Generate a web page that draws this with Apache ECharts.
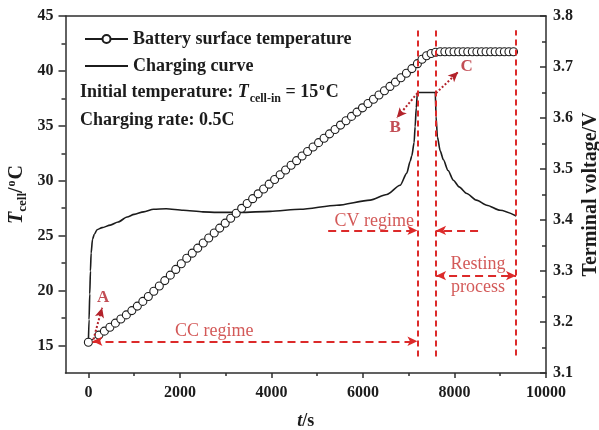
<!DOCTYPE html>
<html>
<head>
<meta charset="utf-8">
<script src="https://cdn.jsdelivr.net/npm/echarts@6/dist/echarts.min.js"></script>
<style>
  html, body { margin: 0; padding: 0; background: #fff; }
  #chart { width: 599px; height: 430px; }
</style>
</head>
<body>
<div id="chart"></div>
<script>
// Battery surface temperature (°C) sampled along the charge and rest
const tempTime = [0, 230, 350, 470, 590, 710, 830, 950, 1070, 1190, 1310, 1430, 1550, 1670, 1790, 1910,
  2030, 2150, 2270, 2390, 2510, 2630, 2750, 2870, 2990, 3110, 3230, 3350, 3470, 3590, 3710, 3830, 3950,
  4070, 4190, 4310, 4430, 4550, 4670, 4790, 4910, 5030, 5150, 5270, 5390, 5510, 5630, 5750, 5870, 5990,
  6110, 6230, 6350, 6470, 6590, 6710, 6830, 6950, 7070, 7190, 7290, 7390, 7490, 7590, 7690, 7790, 7890,
  7990, 8090, 8190, 8290, 8390, 8490, 8590, 8690, 8790, 8890, 8990, 9090, 9190, 9290];
const tempValue = [15.30, 15.95, 16.31, 16.67, 17.04, 17.41, 17.79, 18.18, 18.59, 19.02, 19.47, 19.94,
  20.42, 20.91, 21.41, 21.93, 22.45, 22.94, 23.41, 23.87, 24.33, 24.79, 25.24, 25.69, 26.14, 26.59, 27.04,
  27.49, 27.93, 28.37, 28.81, 29.25, 29.69, 30.12, 30.55, 30.98, 31.41, 31.83, 32.25, 32.66, 33.07, 33.47,
  33.87, 34.27, 34.67, 35.07, 35.47, 35.86, 36.25, 36.64, 37.03, 37.42, 37.81, 38.20, 38.59, 38.98, 39.38,
  39.79, 40.21, 40.66, 41.06, 41.38, 41.58, 41.70, 41.75, 41.75, 41.75, 41.75, 41.75, 41.75, 41.75, 41.75,
  41.75, 41.75, 41.75, 41.75, 41.75, 41.75, 41.75, 41.75, 41.75];

// Terminal voltage (V) during CC / CV charging and resting
const voltTime = [0, 15, 30, 45, 60, 90, 130, 190, 300, 480, 650, 845, 1000, 1207, 1426, 1700, 2074, 2500,
  2810, 3320, 3974, 4630, 5430, 6157, 6522, 6812, 6958, 7031, 7068, 7118, 7140, 7165, 7190, 7580, 7598,
  7627, 7690, 7758, 7860, 7976, 8100, 8269, 8480, 8705, 8996, 9350];
const voltValue = [3.160, 3.205, 3.255, 3.300, 3.335, 3.362, 3.372, 3.381, 3.385, 3.390, 3.396, 3.406,
  3.411, 3.416, 3.421, 3.422, 3.419, 3.416, 3.415, 3.415, 3.417, 3.421, 3.429, 3.439, 3.450, 3.468, 3.492,
  3.515, 3.526, 3.552, 3.583, 3.620, 3.650, 3.650, 3.603, 3.563, 3.535, 3.518, 3.497, 3.478, 3.465, 3.452,
  3.439, 3.429, 3.419, 3.408];

// Axis ticks
const xMajorTicks = [0, 2000, 4000, 6000, 8000, 10000];
const xMinorTicks = [1000, 3000, 5000, 7000, 9000];
const tMajorTicks = [15, 20, 25, 30, 35, 40, 45];
const tMinorTicks = [17.5, 22.5, 27.5, 32.5, 37.5, 42.5];

// Stage boundaries (s): end of CC, end of CV, end of rest
const ccEnd = 7190, cvEnd = 7598, restEnd = 9345;

const SERIF = '"Liberation Serif", "Times New Roman", serif';
const INK = '#1c1c1c';
const AXIS = '#2e2e2e';
const RED = '#dc2a2a';
const RED_TEXT = '#c8302e';
const DARK_RED = '#b3222a';

const tempData = tempTime.map((t, i) => [t, tempValue[i]]);
const voltData = voltTime.map((t, i) => [t, voltValue[i]]);

const dashRed = { color: RED, width: 2, type: [6, 4] };
const arrowRed = { color: RED, width: 2, type: [8, 5] };
const dotRed = { color: DARK_RED, width: 2, type: [2, 2] };

function seg(a, b, style, s0, s1) {
  return [
    { coord: a, symbol: s0 || 'none', symbolSize: [7, 10], lineStyle: style },
    { coord: b, symbol: s1 || 'none', symbolSize: [7, 10] }
  ];
}

const chart = echarts.init(document.getElementById('chart'), null, { renderer: 'canvas' });

const axisLineStyle = { color: AXIS, width: 1.5 };
const tickLabel = { fontFamily: SERIF, fontWeight: 'bold', fontSize: 16, color: INK };

chart.setOption({
  animation: false,
  backgroundColor: '#fff',
  grid: { left: 65.5, right: 53, top: 16, bottom: 57, containLabel: false, outerBoundsMode: 'none' },
  legend: {
    data: [
      { name: 'Battery surface temperature' },
      { name: 'Charging curve', icon: 'path://M0,0H40V2H0Z' }
    ],
    orient: 'vertical',
    left: 79,
    top: 25,
    itemWidth: 43,
    itemHeight: 10,
    itemGap: 9,
    selectedMode: false,
    textStyle: { fontFamily: SERIF, fontWeight: 'bold', fontSize: 18, color: INK }
  },
  xAxis: [
    {
      type: 'value', position: 'bottom', min: -500, max: 10000,
      axisLine: { show: true, onZero: false, lineStyle: axisLineStyle },
      axisTick: { show: true, customValues: xMajorTicks, length: 5, lineStyle: axisLineStyle },
      axisLabel: Object.assign({ customValues: xMajorTicks, margin: 12, formatter: v => String(v) }, tickLabel),
      splitLine: { show: false },
      name: '{it|t}{n|/s}',
      nameLocation: 'middle',
      nameGap: 39,
      nameMoveOverlap: false,
      nameTextStyle: {
        rich: {
          it: { fontFamily: SERIF, fontWeight: 'bold', fontStyle: 'italic', fontSize: 18, color: INK },
          n: { fontFamily: SERIF, fontWeight: 'bold', fontSize: 18, color: INK }
        }
      }
    },
    {
      type: 'value', position: 'bottom', min: -500, max: 10000,
      axisLine: { show: false, onZero: false },
      axisTick: { show: true, customValues: xMinorTicks, length: 3, lineStyle: axisLineStyle },
      axisLabel: { show: false },
      splitLine: { show: false }
    },
    {
      type: 'value', position: 'top', min: -500, max: 10000,
      axisLine: { show: true, onZero: false, lineStyle: axisLineStyle },
      axisTick: { show: false },
      axisLabel: { show: false },
      splitLine: { show: false }
    }
  ],
  yAxis: [
    {
      type: 'value', position: 'left', min: 12.5, max: 45,
      axisLine: { show: true, onZero: false, lineStyle: axisLineStyle },
      axisTick: { show: true, customValues: tMajorTicks, length: 7, lineStyle: axisLineStyle },
      axisLabel: Object.assign({ customValues: tMajorTicks, margin: 12 }, tickLabel),
      splitLine: { show: false },
      name: '{it|T}{sub|cell}{n|/}{sup|o}{n|C}',
      nameLocation: 'middle',
      nameRotate: 90,
      nameGap: 36,
      nameMoveOverlap: false,
      nameTextStyle: {
        rich: {
          it: { fontFamily: SERIF, fontWeight: 'bold', fontStyle: 'italic', fontSize: 20, color: INK },
          sub: { fontFamily: SERIF, fontWeight: 'bold', fontSize: 13, color: INK, padding: [12, 0, 0, 0] },
          sup: { fontFamily: SERIF, fontWeight: 'bold', fontSize: 12, color: INK, padding: [0, 1, 10, 1] },
          n: { fontFamily: SERIF, fontWeight: 'bold', fontSize: 20, color: INK }
        }
      }
    },
    {
      type: 'value', position: 'right', min: 3.1, max: 3.8, interval: 0.1,
      axisLine: { show: true, onZero: false, lineStyle: axisLineStyle },
      axisTick: { show: true, inside: true, length: 6, lineStyle: axisLineStyle },
      minorTick: { show: true, splitNumber: 2, length: 4, lineStyle: axisLineStyle },
      axisLabel: Object.assign({ margin: 7, formatter: v => v.toFixed(1) }, tickLabel),
      splitLine: { show: false },
      name: 'Terminal voltage/V',
      nameLocation: 'middle',
      nameRotate: 90,
      nameGap: 35,
      nameMoveOverlap: false,
      nameTextStyle: { fontFamily: SERIF, fontWeight: 'bold', fontSize: 20, color: INK }
    },
    {
      type: 'value', position: 'left', min: 12.5, max: 45,
      axisLine: { show: false, onZero: false },
      axisTick: { show: true, customValues: tMinorTicks, length: 4, lineStyle: axisLineStyle },
      axisLabel: { show: false },
      splitLine: { show: false }
    }
  ],
  graphic: [
    {
      type: 'text', left: 80, top: 82,
      style: {
        text: 'Initial temperature: {it|T}{sub|cell-in}{n| = 15}{sup|o}{n|C}',
        font: 'bold 18px ' + SERIF,
        fill: INK,
        rich: {
          it: { fontFamily: SERIF, fontWeight: 'bold', fontStyle: 'italic', fontSize: 18, fill: INK },
          sub: { fontFamily: SERIF, fontWeight: 'bold', fontSize: 12, fill: INK, padding: [12, 0, 0, 1] },
          sup: { fontFamily: SERIF, fontWeight: 'bold', fontSize: 11, fill: INK, padding: [0, 1, 10, 1] },
          n: { fontFamily: SERIF, fontWeight: 'bold', fontSize: 18, fill: INK }
        }
      }
    },
    {
      type: 'text', left: 80, top: 111,
      style: { text: 'Charging rate: 0.5C', font: 'bold 18px ' + SERIF, fill: INK }
    }
  ],
  series: [
    {
      name: 'Charging curve',
      type: 'line',
      xAxisIndex: 0, yAxisIndex: 1,
      data: voltData,
      symbol: 'none',
      smooth: 0.25,
      smoothMonotone: 'x',
      lineStyle: { color: INK, width: 1.6 },
      itemStyle: { color: INK },
      z: 2
    },
    {
      name: 'Battery surface temperature',
      type: 'line',
      xAxisIndex: 0, yAxisIndex: 0,
      data: tempData,
      symbol: 'circle',
      symbolSize: 8,
      showSymbol: true,
      showAllSymbol: true,
      lineStyle: { color: INK, width: 1 },
      itemStyle: { color: '#ffffff', borderColor: INK, borderWidth: 1.1 },
      z: 3,
      markLine: {
        silent: true,
        animation: false,
        label: { show: false },
        emphasis: { disabled: true },
        data: [
          // stage boundaries
          seg([ccEnd, 14.0], [ccEnd, 43.75], dashRed),
          seg([cvEnd, 14.0], [cvEnd, 43.75], dashRed),
          seg([restEnd, 14.1], [restEnd, 43.7], dashRed),
          // CC regime
          seg([90, 15.39], [ccEnd, 15.39], arrowRed, 'arrow', 'arrow'),
          // CV regime
          seg([5240, 25.48], [ccEnd, 25.48], arrowRed, 'none', 'arrow'),
          seg([8515, 25.48], [cvEnd, 25.48], arrowRed, 'none', 'arrow'),
          // resting process
          seg([cvEnd, 21.36], [restEnd, 21.36], arrowRed, 'arrow', 'arrow'),
          // points A, B, C
          seg([110, 15.55], [300, 18.45], dotRed, 'none', 'arrow'),
          seg([ccEnd, 37.98], [6740, 35.73], dotRed, 'none', 'arrow'),
          seg([cvEnd, 37.98], [8079, 39.9], dotRed, 'none', 'arrow')
        ]
      }
    },
    {
      name: 'notes',
      type: 'scatter',
      xAxisIndex: 0, yAxisIndex: 0,
      symbolSize: 0,
      silent: true,
      z: 5,
      itemStyle: { color: 'transparent' },
      label: {
        show: true, position: 'inside',
        fontFamily: SERIF, fontSize: 18, color: RED_TEXT
      },
      data: [
        { value: [2751, 16.27], label: { formatter: 'CC regime' } },
        { value: [6245, 26.27], label: { formatter: 'CV regime' } },
        { value: [8515, 22.36], label: { formatter: 'Resting' } },
        { value: [8515, 20.27], label: { formatter: 'process' } },
        { value: [320, 19.35], label: { formatter: 'A', fontWeight: 'bold', fontSize: 17, color: DARK_RED } },
        { value: [6703, 34.85], label: { formatter: 'B', fontWeight: 'bold', fontSize: 17, color: DARK_RED } },
        { value: [8268, 40.39], label: { formatter: 'C', fontWeight: 'bold', fontSize: 17, color: DARK_RED } }
      ]
    }
  ]
});
</script>
</body>
</html>
